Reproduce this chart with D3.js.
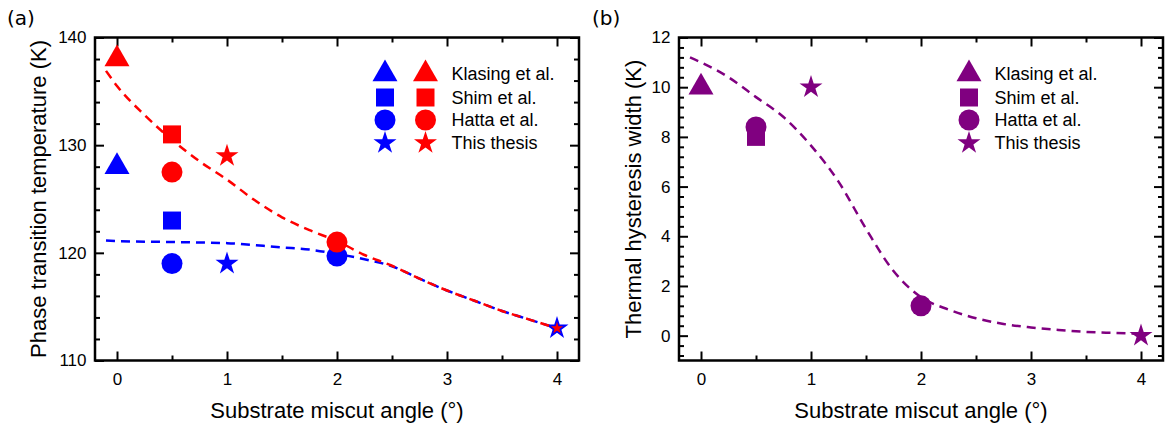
<!DOCTYPE html>
<html>
<head>
<meta charset="utf-8">
<script src="https://cdn.jsdelivr.net/npm/d3@7"></script>
<style>
  html, body { margin: 0; padding: 0; background: #fff; }
  svg { display: block; }
  text { font-family: "Liberation Sans", Arial, sans-serif; fill: #000; }
</style>
</head>
<body>
<svg id="chart" width="1166" height="428"></svg>
<script>
// ---------------- DATA ----------------
const sources = ["Klasing et al.", "Shim et al.", "Hatta et al.", "This thesis"];

// Panel (a): phase transition temperature (K)
const blueSource = ["Klasing et al.", "Shim et al.", "Hatta et al.", "This thesis", "Hatta et al.", "This thesis"];
const blueAngle  = [0, 0.5, 0.5, 1, 2, 4];
const blueTc     = [128, 123, 119, 119, 119.7, 113];

const redSource  = ["Klasing et al.", "Shim et al.", "Hatta et al.", "This thesis", "Hatta et al.", "This thesis"];
const redAngle   = [0, 0.5, 0.5, 1, 2, 4];
const redTc      = [138, 131, 127.5, 129, 121, 113];

// dashed guide curves
const blueFitX = [-0.1, 0, 0.5, 1, 1.5, 1.75, 2, 2.25, 2.5, 2.75, 3, 3.25, 3.5, 3.75, 4];
const blueFitY = [121.15, 121.1, 121.0, 120.9, 120.5, 120.3, 119.9, 119.4, 118.75, 117.6, 116.5, 115.55, 114.6, 113.8, 113.0];
const redFitX  = [-0.1, 0, 0.25, 0.5, 0.75, 1, 1.25, 1.5, 1.75, 2, 2.25, 2.5, 2.75, 3, 3.25, 3.5, 3.75, 4];
const redFitY  = [136.9, 135.5, 132.8, 130.5, 128.5, 126.8, 124.9, 123.3, 122.1, 121.1, 119.8, 118.8, 117.6, 116.5, 115.55, 114.6, 113.8, 113.0];

// Panel (b): thermal hysteresis width (K)
const purpleSource = ["Klasing et al.", "Shim et al.", "Hatta et al.", "This thesis", "Hatta et al.", "This thesis"];
const purpleAngle  = [0, 0.5, 0.5, 1, 2, 4];
const purpleWidth  = [10, 8, 8.4, 10, 1.2, 0];
const purpleFitX = [-0.1, 0, 0.25, 0.5, 0.75, 1, 1.25, 1.5, 1.75, 2, 2.25, 2.5, 2.75, 3, 3.25, 3.5, 3.75, 4];
const purpleFitY = [11.2, 11.0, 10.4, 9.6, 8.8, 7.65, 6.2, 4.3, 2.6, 1.55, 1.05, 0.7, 0.47, 0.33, 0.23, 0.15, 0.11, 0.08];

// ticks
const xMajorTicks = [0, 1, 2, 3, 4];
const xMinorTicks = [-0.5, 0.5, 1.5, 2.5, 3.5];
const yMajorTicksA = [110, 120, 130, 140];
const yMinorTicksA = [112, 114, 116, 118, 122, 124, 126, 128, 132, 134, 136, 138];
const yMajorTicksB = [0, 2, 4, 6, 8, 10, 12];
const yMinorTicksB = [-0.8, -0.4, 0.4, 0.8, 1.2, 1.6, 2.4, 2.8, 3.2, 3.6, 4.4, 4.8, 5.2, 5.6, 6.4, 6.8, 7.2, 7.6, 8.4, 8.8, 9.2, 9.6, 10.4, 10.8, 11.2, 11.6];

const xTitle = "Substrate miscut angle (°)";
const yTitleA = "Phase transition temperature (K)";
const yTitleB = "Thermal hysteresis width (K)";

// ---------------- STYLE ----------------
const BLUE = "#0000FF", RED = "#FF0000", PURPLE = "#800080";
const symbolFor = {
  "Klasing et al.": { type: d3.symbolTriangle, size: 270 },
  "Shim et al.":    { type: d3.symbolSquare,   size: 324 },
  "Hatta et al.":   { type: d3.symbolCircle,   size: 346 },
  "This thesis":    { type: d3.symbolStar,     size: 164 }
};
const svg = d3.select("#chart");

function makePanel(cfg) {
  const g = svg.append("g");
  const x = d3.scaleLinear().domain([-0.2, 4.2]).range([cfg.x0, cfg.x1]);
  const y = d3.scaleLinear().domain(cfg.yDomain).range([cfg.y1, cfg.y0]);

  const major = 9, minor = 5;
  // bottom axis with labels
  g.append("g").attr("transform", `translate(0,${cfg.y1})`)
    .call(d3.axisBottom(x).tickValues(xMajorTicks).tickSize(-major).tickPadding(12.5).tickFormat(d3.format("d")))
    .call(a => a.select(".domain").remove())
    .call(a => a.selectAll("text").style("font-size", "17px").attr("font-family", null));
  g.append("g").attr("transform", `translate(0,${cfg.y1})`)
    .call(d3.axisBottom(x).tickValues(xMinorTicks.filter(v => v > -0.2)).tickSize(-minor).tickFormat(""))
    .call(a => a.select(".domain").remove());
  // top axis
  g.append("g").attr("transform", `translate(0,${cfg.y0})`)
    .call(d3.axisTop(x).tickValues(xMajorTicks).tickSize(-major).tickFormat(""))
    .call(a => a.select(".domain").remove());
  g.append("g").attr("transform", `translate(0,${cfg.y0})`)
    .call(d3.axisTop(x).tickValues(xMinorTicks.filter(v => v > -0.2)).tickSize(-minor).tickFormat(""))
    .call(a => a.select(".domain").remove());
  // left axis with labels
  g.append("g").attr("transform", `translate(${cfg.x0},0)`)
    .call(d3.axisLeft(y).tickValues(cfg.yMajor).tickSize(-major).tickPadding(8.5).tickFormat(d3.format("d")))
    .call(a => a.select(".domain").remove())
    .call(a => a.selectAll("text").style("font-size", "17px").attr("font-family", null));
  g.append("g").attr("transform", `translate(${cfg.x0},0)`)
    .call(d3.axisLeft(y).tickValues(cfg.yMinor).tickSize(-minor).tickFormat(""))
    .call(a => a.select(".domain").remove());
  // right axis
  g.append("g").attr("transform", `translate(${cfg.x1},0)`)
    .call(d3.axisRight(y).tickValues(cfg.yMajor).tickSize(-major).tickFormat(""))
    .call(a => a.select(".domain").remove());
  g.append("g").attr("transform", `translate(${cfg.x1},0)`)
    .call(d3.axisRight(y).tickValues(cfg.yMinor).tickSize(-minor).tickFormat(""))
    .call(a => a.select(".domain").remove());
  g.selectAll(".tick line").attr("stroke", "#000").attr("stroke-width", 2);

  // frame
  g.append("rect").attr("x", cfg.x0).attr("y", cfg.y0)
    .attr("width", cfg.x1 - cfg.x0).attr("height", cfg.y1 - cfg.y0)
    .attr("fill", "none").attr("stroke", "#000").attr("stroke-width", 2.5);

  // titles
  g.append("text").attr("x", (cfg.x0 + cfg.x1) / 2).attr("y", 418)
    .attr("text-anchor", "middle").style("font-size", "22px").text(xTitle);
  g.append("text")
    .attr("transform", `translate(${cfg.yTitleX},${(cfg.y0 + cfg.y1) / 2}) rotate(-90)`)
    .attr("text-anchor", "middle").style("font-size", "22px").text(cfg.yTitle);
  g.append("text").attr("x", cfg.labelX).attr("y", 25)
    .style("font-family", "'DejaVu Sans', sans-serif").style("font-size", "20px").text(cfg.label);

  return { g, x, y };
}

function drawMarkers(layer, x, y, srcs, xs, ys, color, sizeFn) {
  srcs.forEach((s, i) => {
    const sym = symbolFor[s];
    const size = sizeFn ? sizeFn(i, sym.size) : sym.size;
    layer.append("path")
      .attr("d", d3.symbol().type(sym.type).size(size)())
      .attr("transform", `translate(${x(xs[i])},${y(ys[i])})`)
      .attr("fill", color);
  });
}

function drawFit(layer, x, y, xs, ys, color) {
  const line = d3.line().x(d => x(d[0])).y(d => y(d[1])).curve(d3.curveMonotoneX);
  layer.append("path").datum(xs.map((v, i) => [v, ys[i]]))
    .attr("d", line).attr("fill", "none").attr("stroke", color)
    .attr("stroke-width", 2.5).attr("stroke-dasharray", "9,6");
}

// ---------------- PANEL (a) ----------------
const A = makePanel({
  x0: 95, x1: 579, y0: 37.5, y1: 360.5, yDomain: [110, 140],
  yMajor: yMajorTicksA, yMinor: yMinorTicksA, yTitle: yTitleA, yTitleX: 46,
  label: "(a)", labelX: 7
});
drawMarkers(A.g, A.x, A.y, blueSource, blueAngle, blueTc, BLUE);
drawFit(A.g, A.x, A.y, blueFitX, blueFitY, BLUE);
drawFit(A.g, A.x, A.y, redFitX, redFitY, RED);
// red marker hidden behind an identical blue one is drawn smaller
drawMarkers(A.g, A.x, A.y, redSource, redAngle, redTc, RED, (i, s) => {
  const overlap = blueAngle.some((bx, j) => bx === redAngle[i] && blueTc[j] === redTc[i] && blueSource[j] === redSource[i]);
  return overlap ? s * 0.28 : s;
});

// legend (a)
const legRowsY = [74, 97.5, 120, 143];
sources.forEach((s, i) => {
  const sym = symbolFor[s];
  const cy = legRowsY[i];
  A.g.append("path").attr("d", d3.symbol().type(sym.type).size(sym.size)())
    .attr("transform", `translate(385,${cy})`).attr("fill", BLUE);
  A.g.append("path").attr("d", d3.symbol().type(sym.type).size(sym.size)())
    .attr("transform", `translate(425.5,${cy})`).attr("fill", RED);
  A.g.append("text").attr("x", 451.5).attr("y", cy).attr("dy", "0.36em")
    .style("font-size", "18px").text(s);
});

// ---------------- PANEL (b) ----------------
const B = makePanel({
  x0: 679, x1: 1163, y0: 37.5, y1: 360.5, yDomain: [-1, 12],
  yMajor: yMajorTicksB, yMinor: yMinorTicksB, yTitle: yTitleB, yTitleX: 640.5,
  label: "(b)", labelX: 592
});
drawFit(B.g, B.x, B.y, purpleFitX, purpleFitY, PURPLE);
drawMarkers(B.g, B.x, B.y, purpleSource, purpleAngle, purpleWidth, PURPLE);

sources.forEach((s, i) => {
  const sym = symbolFor[s];
  const cy = legRowsY[i];
  B.g.append("path").attr("d", d3.symbol().type(sym.type).size(sym.size)())
    .attr("transform", `translate(969,${cy})`).attr("fill", PURPLE);
  B.g.append("text").attr("x", 994.5).attr("y", cy).attr("dy", "0.36em")
    .style("font-size", "18px").text(s);
});
</script>
</body>
</html>
